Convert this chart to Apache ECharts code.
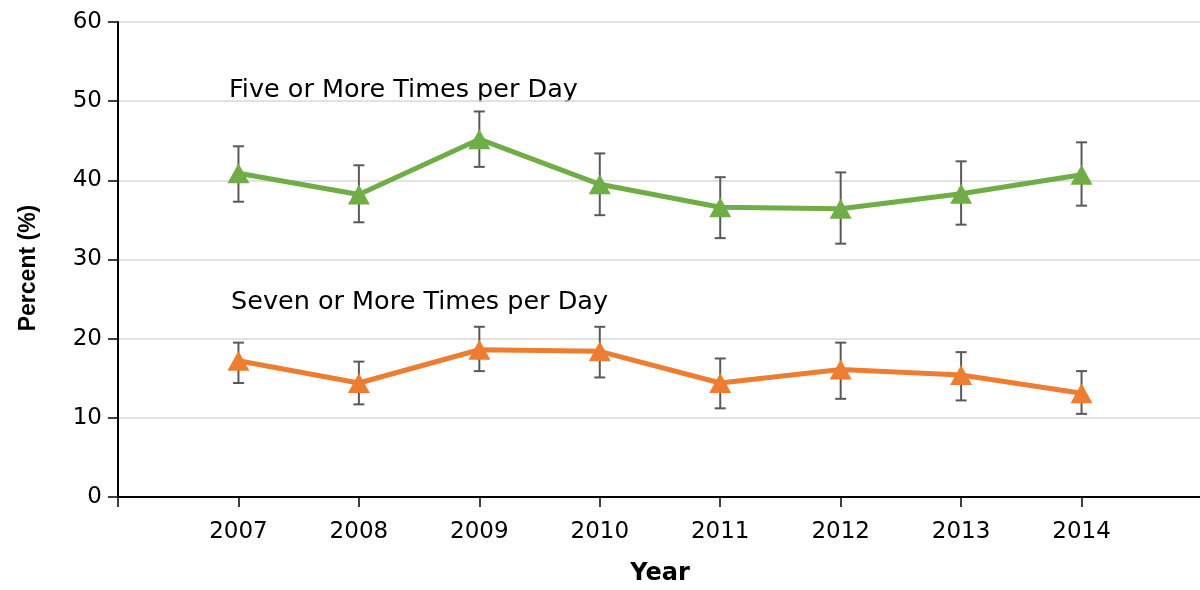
<!DOCTYPE html>
<html>
<head>
<meta charset="utf-8">
<script src="https://cdn.jsdelivr.net/npm/echarts@6/dist/echarts.min.js"></script>
<style>
  html, body { margin: 0; padding: 0; background: #fff; overflow: hidden; }
  #chart { width: 1200px; height: 590px; }
</style>
</head>
<body>
<div id="chart"></div>
<script>
// Survey years
const years = [2007, 2008, 2009, 2010, 2011, 2012, 2013, 2014];

// Five or more times per day: estimate with 95% CI
const fiveOrMore = [40.9, 38.2, 45.2, 39.5, 36.6, 36.4, 38.3, 40.7];
const fiveLow    = [37.3, 34.7, 41.7, 35.6, 32.7, 32.0, 34.4, 36.8];
const fiveHigh   = [44.3, 41.9, 48.7, 43.4, 40.4, 41.0, 42.4, 44.8];

// Seven or more times per day: estimate with 95% CI
const sevenOrMore = [17.2, 14.4, 18.6, 18.4, 14.4, 16.1, 15.4, 13.1];
const sevenLow    = [14.4, 11.7, 15.9, 15.1, 11.2, 12.4, 12.2, 10.5];
const sevenHigh   = [19.5, 17.1, 21.5, 21.5, 17.5, 19.5, 18.3, 15.9];

// Y axis tick values
const yTicks = [0, 10, 20, 30, 40, 50, 60];

const GREEN = '#70AD47';
const ORANGE = '#ED7D31';
const BAR_GREY = '#595959';
const FONT = 'DejaVu Sans';

function pairs(vals) {
  return years.map((y, i) => [y, vals[i]]);
}
function ranges(lo, hi) {
  return years.map((y, i) => [y, lo[i], hi[i]]);
}

// Draws a vertical whisker with caps between low and high values
function errorBarItem(params, api) {
  const x = api.value(0);
  const top = api.coord([x, api.value(2)]);
  const bot = api.coord([x, api.value(1)]);
  const half = 5.5;
  const style = { stroke: BAR_GREY, lineWidth: 2, fill: null };
  return {
    type: 'group',
    children: [
      { type: 'line', shape: { x1: top[0], y1: top[1], x2: bot[0], y2: bot[1] }, style },
      { type: 'line', shape: { x1: top[0] - half, y1: top[1], x2: top[0] + half, y2: top[1] }, style },
      { type: 'line', shape: { x1: bot[0] - half, y1: bot[1], x2: bot[0] + half, y2: bot[1] }, style }
    ]
  };
}

const chart = echarts.init(document.getElementById('chart'), null, { renderer: 'canvas' });

chart.setOption({
  animation: false,
  backgroundColor: '#fff',
  grid: { left: 118, right: -2, top: 22, bottom: 93, containLabel: false, outerBoundsMode: 'none' },
  xAxis: {
    type: 'value',
    min: 2006,
    max: 2015,
    interval: 1,
    name: 'Year',
    nameLocation: 'middle',
    nameGap: 65,
    nameTextStyle: { fontFamily: FONT, fontWeight: 'bold', fontSize: 24, color: '#000' },
    axisLine: { lineStyle: { color: '#000', width: 2 } },
    axisTick: { show: true, length: 10, lineStyle: { color: '#000', width: 1.5 } },
    splitLine: { show: false },
    axisLabel: {
      fontFamily: FONT,
      fontSize: 23,
      color: '#000',
      margin: 24,
      formatter: v => (years.indexOf(v) >= 0 ? String(v) : '')
    }
  },
  yAxis: {
    type: 'value',
    min: yTicks[0],
    max: yTicks[yTicks.length - 1],
    interval: 10,
    axisLine: { show: true, lineStyle: { color: '#000', width: 2 } },
    axisTick: { show: true, length: 10, lineStyle: { color: '#000', width: 1.5 } },
    splitLine: { show: true, lineStyle: { color: '#d9d9d9', width: 1.5 } },
    axisLabel: { fontFamily: FONT, fontSize: 23, color: '#000', margin: 16 }
  },
  graphic: [
    {
      // vertical axis title
      type: 'text', x: 29, y: 268, rotation: Math.PI / 2,
      style: {
        text: 'Percent (%)', font: 'bold 23px "Liberation Sans"', fill: '#000',
        align: 'center', verticalAlign: 'middle'
      }
    },
    {
      type: 'text', x: 229, y: 90,
      style: { text: 'Five or More Times per Day', font: '25.5px "DejaVu Sans"', fill: '#000', verticalAlign: 'middle' }
    },
    {
      type: 'text', x: 231, y: 302,
      style: { text: 'Seven or More Times per Day', font: '25.5px "DejaVu Sans"', fill: '#000', verticalAlign: 'middle' }
    }
  ],
  series: [
    {
      type: 'custom', name: 'five CI', z: 1,
      renderItem: errorBarItem,
      encode: { x: 0, y: [1, 2] },
      data: ranges(fiveLow, fiveHigh)
    },
    {
      type: 'custom', name: 'seven CI', z: 1,
      renderItem: errorBarItem,
      encode: { x: 0, y: [1, 2] },
      data: ranges(sevenLow, sevenHigh)
    },
    {
      type: 'line', name: 'Five or More Times per Day', z: 3,
      data: pairs(fiveOrMore),
      symbol: 'triangle', symbolSize: [22, 20],
      lineStyle: { color: GREEN, width: 5 },
      itemStyle: { color: GREEN },
      showAllSymbol: true
    },
    {
      type: 'line', name: 'Seven or More Times per Day', z: 3,
      data: pairs(sevenOrMore),
      symbol: 'triangle', symbolSize: [22, 20],
      lineStyle: { color: ORANGE, width: 5 },
      itemStyle: { color: ORANGE },
      showAllSymbol: true
    }
  ]
});
</script>
</body>
</html>
